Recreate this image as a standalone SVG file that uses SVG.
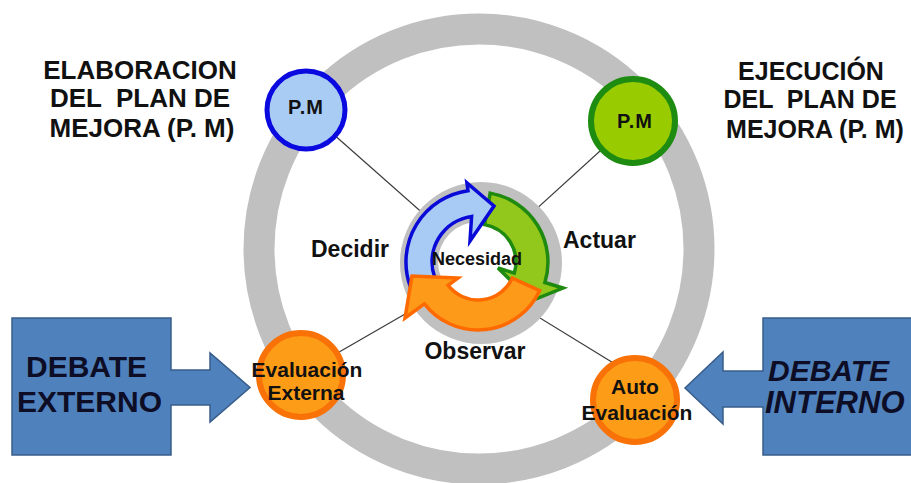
<svg xmlns="http://www.w3.org/2000/svg" width="911" height="483" viewBox="0 0 911 483">
<style>
text{font-family:"Liberation Sans",Arial,sans-serif;font-weight:bold;fill:#111}
.title{font-size:26px;text-anchor:middle;white-space:pre}
.lbl{font-size:23px}
.node{font-size:21px;text-anchor:middle}
.pm{font-size:20px;text-anchor:middle;letter-spacing:1px}
.deb{font-size:30px;fill:#0d0d26}
.conn{stroke:#3a3a3a;stroke-width:1.2;fill:none}
.block{fill:#4f81bd;stroke:#385d8a;stroke-width:1.5}
.orange{fill:#fd9d17;stroke:#f87208;stroke-width:6}
</style>
<rect width="911" height="483" fill="#fff"/>
<g id="ring"><circle cx="479" cy="249" r="220" fill="none" stroke="#c0c0c0" stroke-width="31"/></g>
<g id="connectors">
<line class="conn" x1="306" y1="110" x2="478" y2="262"/>
<line class="conn" x1="633" y1="121" x2="478" y2="262"/>
<line class="conn" x1="301" y1="374" x2="478" y2="272"/>
<line class="conn" x1="478" y1="280" x2="615" y2="364"/>
</g>
<g id="cycle">
<circle cx="481" cy="263" r="81" fill="#c0c0c0"/>
<circle cx="478" cy="262" r="40" fill="#fff"/>
<path d="M490.2,193.1 A70,70 0 0 1 544.9,282.5 L563,288 L531.4,300.8 L498,268 L514.3,273.1 A38,38 0 0 0 484.6,224.6 Z" fill="#92c81c" stroke="#1f8a10" stroke-width="3.5"/>
<path d="M410.3,286.6 A72,72 0 0 1 468,190.7 L466.9,182.8 L494,206 L470,241 L471.6,216.4 A46,46 0 0 0 434.8,277.7 Z" fill="#a8cbf5" stroke="#0a0ad8" stroke-width="3.5"/>
<path d="M539.6,290.7 A68,68 0 0 1 424.4,303.9 L405,318 L412,276 L458,278 L448.1,285.4 A38,38 0 0 0 512.4,278.1 Z" fill="#fd9a1a" stroke="#ff6a00" stroke-width="3.5"/>
<text x="477" y="265" style="font-size:18px;text-anchor:middle">Necesidad</text>
</g>
<g id="labels">
<text class="lbl" x="311" y="257">Decidir</text>
<text class="lbl" x="563" y="248">Actuar</text>
<text class="lbl" x="475" y="359" text-anchor="middle">Observar</text>
</g>
<g id="title-left">
<text class="title" x="140" y="79">ELABORACION</text>
<text class="title" x="140" y="107">DEL  PLAN DE</text>
<text class="title" x="142" y="137">MEJORA (P. M)</text>
</g>
<g id="title-right">
<text class="title" x="811" y="80" style="font-size:25px">EJECUCIÓN</text>
<text class="title" x="810" y="108" style="font-size:25px">DEL  PLAN DE</text>
<text class="title" x="815" y="138" style="font-size:25px">MEJORA (P. M)</text>
</g>
<g id="pm-blue">
<circle cx="306" cy="110" r="39" fill="#a9ccf5" stroke="#0a0ae0" stroke-width="5"/>
<text class="pm" x="306" y="114">P.M</text>
</g>
<g id="pm-green">
<circle cx="633" cy="121" r="42" fill="#99cc00" stroke="#1e8c10" stroke-width="6"/>
<text class="pm" x="635" y="128">P.M</text>
</g>
<g id="eval-externa">
<circle class="orange" cx="301" cy="375" r="42"/>
<text class="node" x="307" y="377">Evaluación</text>
<text class="node" x="306" y="400">Externa</text>
</g>
<g id="auto-eval">
<circle class="orange" cx="635" cy="400" r="42"/>
<text class="node" x="635" y="394">Auto</text>
<text class="node" x="637" y="420">Evaluación</text>
</g>
<g id="debate-externo">
<polygon class="block" points="12,318 171,318 171,370 210,370 210,353 250,387.5 210,422 210,405 171,405 171,455 12,455"/>
<text class="deb" x="26" y="377">DEBATE</text>
<text class="deb" x="17" y="412">EXTERNO</text>
</g>
<g id="debate-interno">
<polygon class="block" points="915,318 763,318 763,371 723,371 723,352 685,388 723,424 723,407 763,407 763,455 915,455"/>
<text class="deb" x="768" y="381" style="font-style:italic">DEBATE</text>
<text class="deb" x="765" y="413" style="font-style:italic;font-size:31px">INTERNO</text>
</g>
</svg>
